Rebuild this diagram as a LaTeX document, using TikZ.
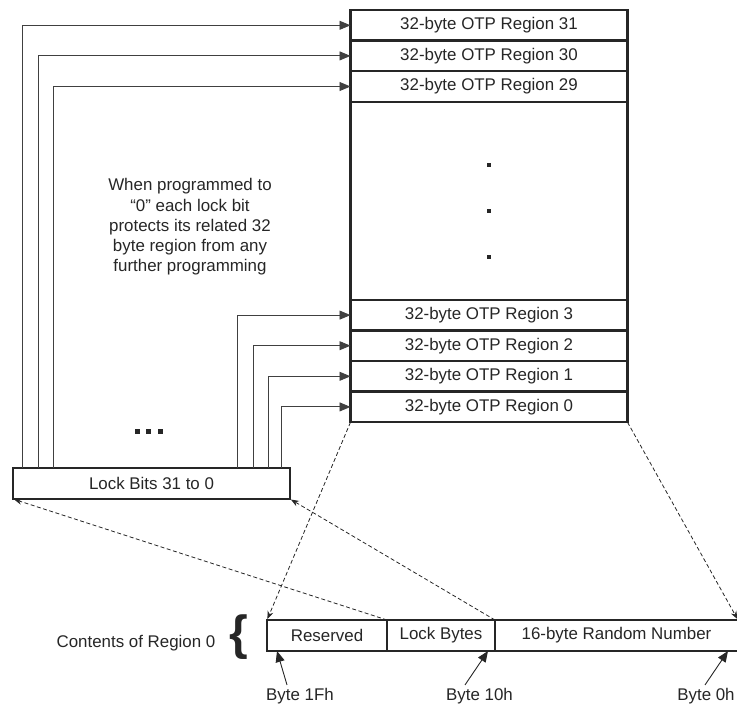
\documentclass[tikz,border=0pt]{standalone}
\usepackage{fontspec}
\setmainfont{Liberation Sans}
\usetikzlibrary{positioning,calc}
\usetikzlibrary{arrows.meta}

\begin{document}
\begin{tikzpicture}[x=1pt, y=-1pt, color=black!85,
    font=\fontsize{16.9}{20.2}\selectfont,
    region/.style={draw, line width=2.4pt, minimum height=30.6pt, minimum width=277pt, inner sep=0pt, outer sep=0pt},
    field/.style={draw, line width=2.4pt, minimum height=31pt, inner sep=0pt, outer sep=0pt},
    lockline/.style={-{Triangle[length=11pt,width=9pt]}, line width=0.9pt, draw=black!75},
    mapline/.style={-{Stealth[length=8pt,width=6pt]}, dash pattern=on 4pt off 2.5pt, line width=0.8pt, shorten >=1pt},
    byteline/.style={-{Triangle[length=11pt,width=9pt]}, line width=0.9pt}]
  \useasboundingbox (0,0) rectangle (737,705);

  % memory regions
  \node[region] at (489, 25.3) (r31) {32-byte OTP Region 31};
  \node[region] (r30) [below=0pt of r31] {32-byte OTP Region 30};
  \node[region] (r29) [below=0pt of r30] {32-byte OTP Region 29};
  \node[region, minimum height=198pt] (gap) [below=0pt of r29] {};
  \node[region] (r3) [below=0pt of gap] {32-byte OTP Region 3};
  \node[region] (r2) [below=0pt of r3] {32-byte OTP Region 2};
  \node[region] (r1) [below=0pt of r2] {32-byte OTP Region 1};
  \node[region] (r0) [below=0pt of r1] {32-byte OTP Region 0};
  \foreach \dy in {63,109,155}
    \fill ($(gap.north)+(-2,\dy-2)$) rectangle +(4,4);

  % lock bits
  \node[field, minimum width=277pt] at (151.5, 483.5) (lock) {Lock Bits 31 to 0};
  \foreach \dx in {124,135,147}
    \fill ($(lock.north west)+(\dx-2.5,-39)$) rectangle +(5,5);

  \draw [lockline] ($(lock.north west)+(9,0)$) |- (r31.west);
  \draw [lockline] ($(lock.north west)+(25,0)$) |- (r30.west);
  \draw [lockline] ($(lock.north west)+(40,0)$) |- (r29.west);
  \draw [lockline] ($(lock.north east)+(-53,0)$) |- (r3.west);
  \draw [lockline] ($(lock.north east)+(-37,0)$) |- (r2.west);
  \draw [lockline] ($(lock.north east)+(-22,0)$) |- (r1.west);
  \draw [lockline] ($(lock.north east)+(-9,0)$) |- (r0.west);

  \node[align=center] at (190, 227) (note) {When programmed to\\“0” each lock bit\\protects its related 32\\byte region from any\\further programming};

  % contents of region 0
  \node[field, minimum width=120pt] at (327, 635.5) (res) {Reserved};
  \node[field, minimum width=108pt] (lb) [right=0pt of res] {Lock Bytes};
  \node[field, minimum width=243pt] (rnd) [right=0pt of lb] {16-byte Random Number};
  \node[inner sep=0pt] at (239, 637) (brace) {\fontsize{48}{48}\selectfont\bfseries\{};
  \node[inner sep=0pt] at (136, 643) (contents) {Contents of Region 0};

  \draw [mapline] (r0.south west) -- (res.north west);
  \draw [mapline] (res.north east) -- (lock.south west);
  \draw [mapline] (lb.north east) -- (lock.south east);
  \draw [mapline] (r0.south east) -- (rnd.north east);

  \node[inner sep=0pt] at (300, 696) (b1f) {Byte 1Fh};
  \node[inner sep=0pt] at (479.5, 696) (b10) {Byte 10h};
  \node[inner sep=0pt] at (706, 696) (b0) {Byte 0h};

  \draw [byteline] ($(b1f.north)+(-13,-3)$) -- ($(res.south west)+(10,0)$);
  \draw [byteline] ($(b10.north)+(-14.5,-3)$) -- ($(lb.south east)+(-7,0)$);
  \draw [byteline] ($(b0.north)+(-1,-3)$) -- ($(rnd.south east)+(-10,0)$);

\end{tikzpicture}
\end{document}
